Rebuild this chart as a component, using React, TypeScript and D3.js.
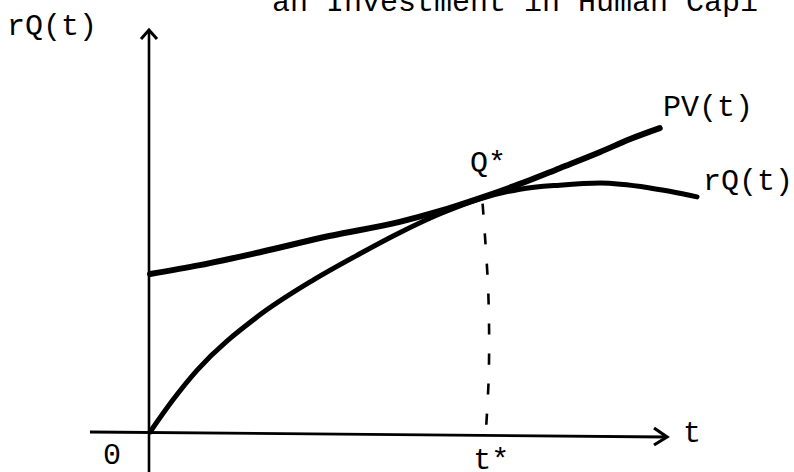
import React from "react";
import * as d3 from "d3";

// Conceptual units: t from 0..10 along the horizontal axis, value 0..10 vertically
const pvT = [0.02, 0.98, 2.14, 3.48, 4.84, 5.62, 6.39, 7.16, 7.93, 8.71, 9.29, 9.86];
const pvV = [3.96, 4.18, 4.5, 4.9, 5.25, 5.52, 5.84, 6.19, 6.58, 6.98, 7.3, 7.57];

const rqT = [0.02, 0.46, 0.93, 2.09, 3.17, 4.07, 4.79, 5.62, 6.39, 7.16, 7.93, 8.71, 9.67, 10.58];
const rqV = [0.05, 0.84, 1.58, 2.9, 3.81, 4.46, 4.95, 5.45, 5.82, 6.06, 6.16, 6.21, 6.09, 5.87];

const tStar = 6.49;
const dashV = [5.7, 3.5, 1.5, 0.0];
const dashT = [6.44, 6.55, 6.56, 6.5];

const labels = {
  yAxis: "rQ(t)",
  xAxis: "t",
  origin: "0",
  pv: "PV(t)",
  rq: "rQ(t)",
  qStar: "Q*",
  tStar: "t*",
  title: "an Investment in Human Capi",
};

const W = 794;
const H = 472;

export default function App() {
  const x = d3.scaleLinear().domain([0, 10]).range([149, 667]);
  const y = d3.scaleLinear().domain([0, 10]).range([434, 30]);

  const line = d3
    .line<[number, number]>()
    .x((d) => x(d[0]))
    .y((d) => y(d[1]))
    .curve(d3.curveMonotoneX);

  const dashLine = d3
    .line<[number, number]>()
    .x((d) => x(d[0]))
    .y((d) => y(d[1]))
    .curve(d3.curveCatmullRom.alpha(0.5));

  const pvPts = pvT.map((t, i) => [t, pvV[i]] as [number, number]);
  const rqPts = rqT.map((t, i) => [t, rqV[i]] as [number, number]);
  const dashPts = dashT.map((t, i) => [t, dashV[i]] as [number, number]);

  const x0 = x(0);
  const y0 = y(0);
  const xEnd = x(10);
  const yTop = y(10);

  const font = "'Liberation Mono', 'DejaVu Sans Mono', monospace";
  const fs = 30;

  return (
    <svg
      width={W}
      height={H}
      viewBox={`0 0 ${W} ${H}`}
      style={{ position: "absolute", left: 0, top: 0, background: "#fff" }}
    >
      <rect x={0} y={0} width={W} height={H} fill="#fff" />
      {/* axes */}
      <line x1={x0} y1={H} x2={x0} y2={yTop + 1} stroke="#000" strokeWidth={2.6} />
      <polyline
        points={`${x0 - 8},${yTop + 9} ${x0},${yTop} ${x0 + 8},${yTop + 9}`}
        fill="none"
        stroke="#000"
        strokeWidth={3}
      />
      <line x1={x(-1.14)} y1={y0 - 2} x2={xEnd - 1} y2={y0 + 3} stroke="#000" strokeWidth={2.8} />
      <polyline
        points={`${xEnd - 13},${y0 - 6} ${xEnd},${y0 + 3} ${xEnd - 13},${y0 + 11}`}
        fill="none"
        stroke="#000"
        strokeWidth={3.2}
      />
      {/* dashed t* line */}
      <path
        d={dashLine(dashPts) || ""}
        fill="none"
        stroke="#000"
        strokeWidth={2.6}
        strokeDasharray="11 19"
      />
      {/* curves */}
      <path d={line(rqPts) || ""} fill="none" stroke="#000" strokeWidth={5} strokeLinecap="round" />
      <path d={line(pvPts) || ""} fill="none" stroke="#000" strokeWidth={6} strokeLinecap="round" />
      {/* texts */}
      <g fontFamily={font} fontSize={fs} fill="#000">
        <text x={272} y={11}>{labels.title}</text>
        <text x={7} y={35}>{labels.yAxis}</text>
        <text x={663} y={116}>{labels.pv}</text>
        <text x={703} y={190}>{labels.rq}</text>
        <text x={470} y={172}>{labels.qStar}</text>
        <text x={x(tStar) - 12} y={469}>{labels.tStar}</text>
        <text x={103} y={464}>{labels.origin}</text>
        <text x={683} y={442}>{labels.xAxis}</text>
      </g>
    </svg>
  );
}
